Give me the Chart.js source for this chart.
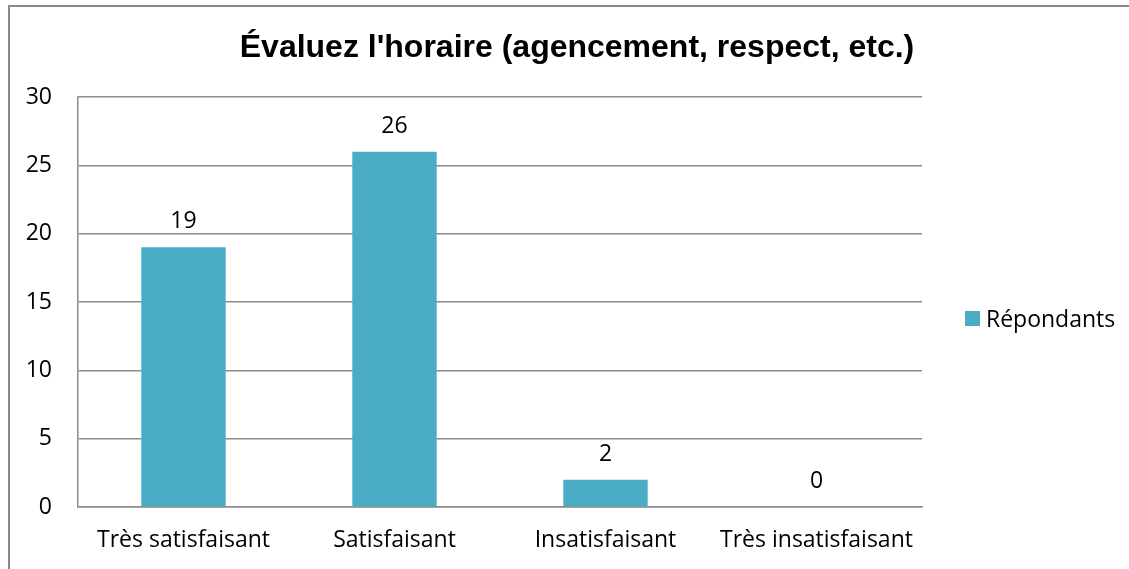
<!DOCTYPE html>
<html>
<head>
<meta charset="utf-8">
<title>Évaluez l'horaire</title>
<script src="https://cdn.jsdelivr.net/npm/chart.js@4/dist/chart.umd.min.js"></script>
<style>
    html, body { margin: 0; padding: 0; background: #fff; }
    #wrap { position: relative; width: 1129px; height: 569px; overflow: hidden; }
    #frame {
        position: absolute; left: 8px; top: 5px; width: 1200px; height: 600px;
        border-top: 2px solid #898989; border-left: 2px solid #898989;
        pointer-events: none;
    }
    canvas { position: absolute; left: 0; top: 0; }
</style>
</head>
<body>
<div id="wrap">
    <canvas id="chart" width="1129" height="569"></canvas>
    <div id="frame"></div>
</div>
<script>
// données du graphique
var titre = "Évaluez l'horaire (agencement, respect, etc.)";
var categories = ['Très satisfaisant', 'Satisfaisant', 'Insatisfaisant', 'Très insatisfaisant'];
var serieNom = 'Répondants';
var valeurs = [19, 26, 2, 0];
var yTicks = [0, 5, 10, 15, 20, 25, 30];

var couleurBarre = '#4BACC6';
var couleurGrille = '#8c8c8c';
var police = '"Open Sans", "Noto Sans", sans-serif';

// titre, étiquettes de valeurs et légende
var extras = {
    id: 'extras',
    afterDatasetsDraw: function(chart) {
        var ctx = chart.ctx;
        var meta = chart.getDatasetMeta(0);
        ctx.save();
        ctx.fillStyle = '#000';
        ctx.font = '23px ' + police;
        ctx.textAlign = 'center';
        ctx.textBaseline = 'alphabetic';
        meta.data.forEach(function(bar, i) {
            ctx.fillText(String(valeurs[i]), bar.x, bar.y - 19);
        });
        ctx.restore();
    },
    afterDraw: function(chart) {
        var ctx = chart.ctx;
        ctx.save();
        // titre
        ctx.fillStyle = '#000';
        ctx.font = 'bold 32px "Liberation Sans", Arial, sans-serif';
        ctx.textAlign = 'center';
        ctx.textBaseline = 'alphabetic';
        ctx.fillText(titre, 577, 57);
        // légende
        ctx.fillStyle = couleurBarre;
        ctx.fillRect(965, 311, 15, 15);
        ctx.fillStyle = '#000';
        ctx.font = '23px ' + police;
        ctx.textAlign = 'left';
        ctx.textBaseline = 'middle';
        ctx.fillText(serieNom, 986, 320);
        ctx.restore();
    }
};

new Chart(document.getElementById('chart'), {
    type: 'bar',
    data: {
        labels: categories,
        datasets: [{
            label: serieNom,
            data: valeurs,
            backgroundColor: couleurBarre,
            categoryPercentage: 0.8,
            barPercentage: 0.5
        }]
    },
    options: {
        responsive: false,
        animation: false,
        layout: {
            padding: { top: 97, right: 207, bottom: 0, left: 0 }
        },
        plugins: {
            legend: { display: false },
            title: { display: false },
            tooltip: { enabled: false }
        },
        scales: {
            x: {
                grid: { display: false, drawTicks: false },
                border: { display: true, color: couleurGrille, width: 1.5 },
                ticks: {
                    color: '#000',
                    font: { family: police, size: 23 },
                    padding: 20,
                    maxRotation: 0,
                    autoSkip: false
                },
                afterFit: function(scale) { scale.height = 62; }
            },
            y: {
                min: yTicks[0],
                max: yTicks[yTicks.length - 1],
                grid: { color: couleurGrille, lineWidth: 1.5, drawTicks: false },
                border: { display: true, color: couleurGrille, width: 1.5 },
                afterBuildTicks: function(scale) {
                    scale.ticks = yTicks.map(function(v) { return { value: v }; });
                },
                ticks: {
                    color: '#000',
                    font: { family: police, size: 23 },
                    padding: 26
                },
                afterFit: function(scale) { scale.width = 78; }
            }
        }
    },
    plugins: [extras]
});
</script>
</body>
</html>
